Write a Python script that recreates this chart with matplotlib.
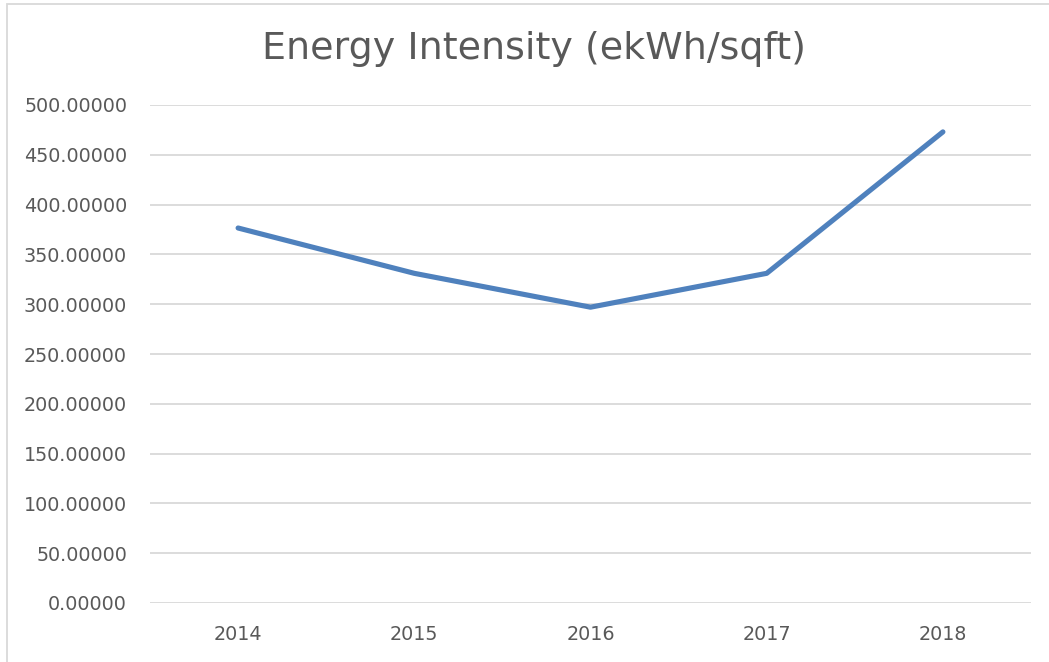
import matplotlib
matplotlib.use("Agg")
import matplotlib.pyplot as plt
from matplotlib.patches import Rectangle

years = ["2014", "2015", "2016", "2017", "2018"]
intensity = [376.5, 331.0, 297.0, 331.0, 473.0]
yticks = [0, 50, 100, 150, 200, 250, 300, 350, 400, 450, 500]

W, H = 1049, 662
fig = plt.figure(figsize=(W / 100, H / 100), dpi=100)
ax = fig.add_axes([150 / W, 1 - 603 / H, (1031 - 150) / W, (603 - 105) / H])

x = list(range(len(years)))
ax.plot(x, intensity, color="#4F81BD", linewidth=3.7, solid_capstyle="round",
        solid_joinstyle="round", zorder=3)
ax.set_xlim(-0.5, len(years) - 0.5)
ax.set_ylim(0, 500)
ax.set_yticks(yticks)
ax.set_yticklabels([f"{v:.5f}" for v in yticks])
ax.set_xticks(x)
ax.set_xticklabels(years)
ax.grid(axis="y", color="#D9D9D9", linewidth=1.3)
ax.set_axisbelow(True)
for s in ax.spines.values():
    s.set_visible(False)
ax.tick_params(axis="both", length=0, labelsize=13.8, colors="#595959")
ax.tick_params(axis="y", pad=16.5)
ax.tick_params(axis="x", pad=16)

fig.text(534 / W, 1 - 49 / H, "Energy Intensity (ekWh/sqft)", ha="center", va="center",
         fontsize=27.4, color="#595959")

fig.patches.append(Rectangle((7 / W, -0.01), 1.02, 1 - 4 / H + 0.01, transform=fig.transFigure,
                             fill=False, edgecolor="#D9D9D9", linewidth=1.3))

fig.savefig("out.png", dpi=100)
